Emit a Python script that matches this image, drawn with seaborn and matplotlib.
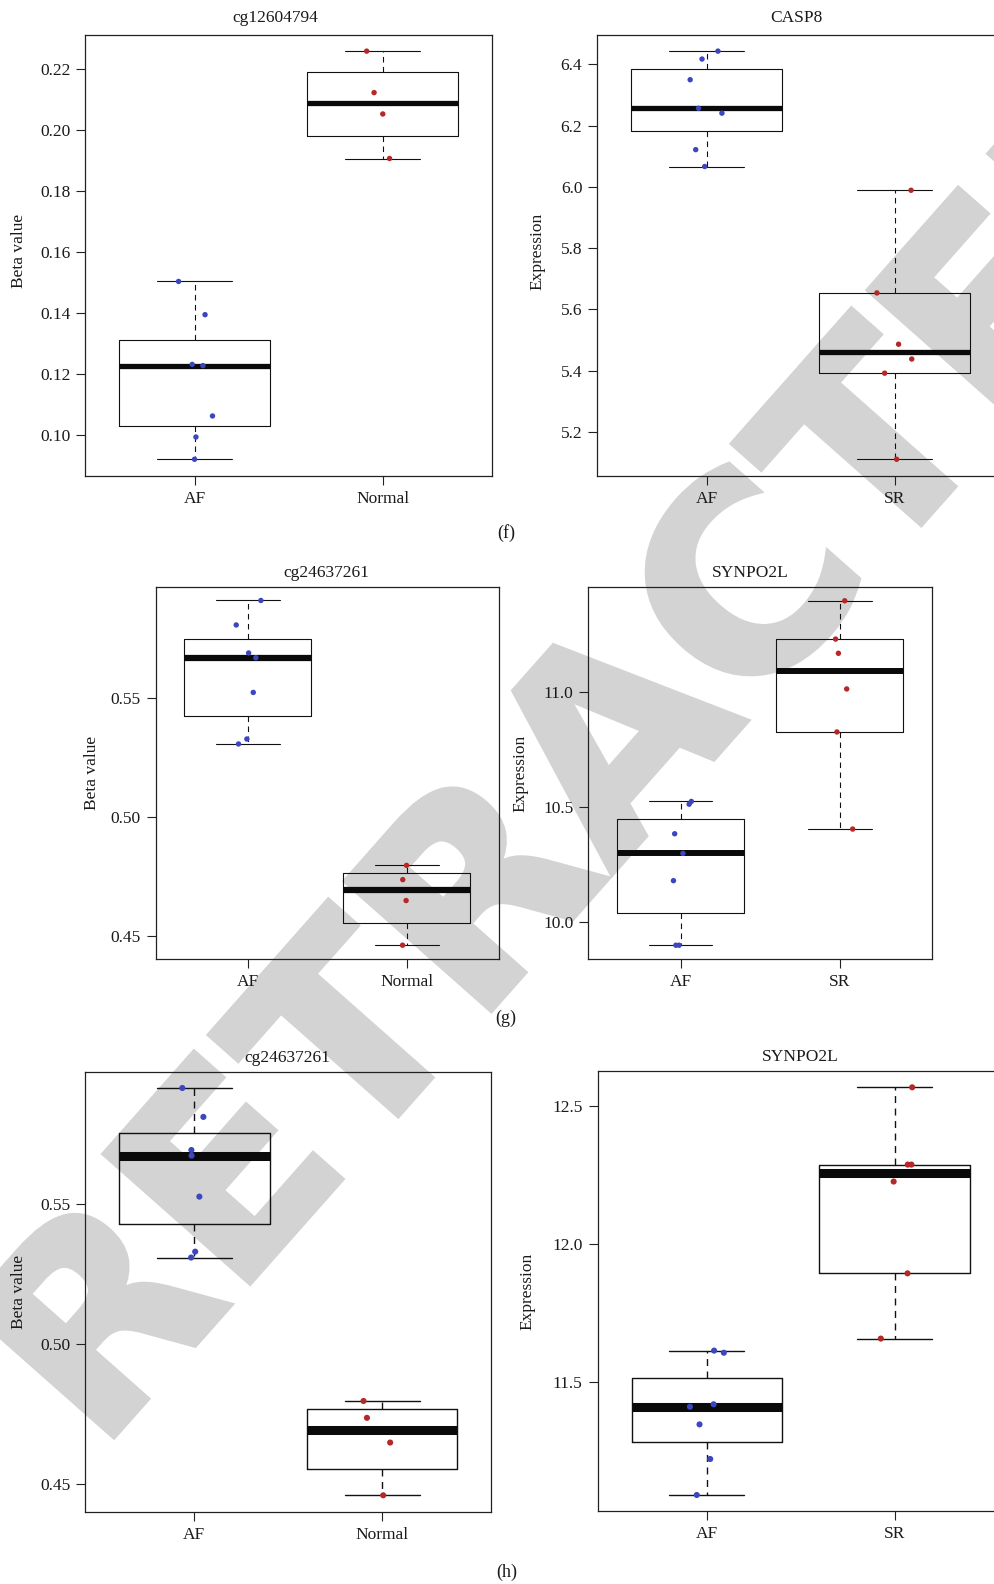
import numpy as np
import pandas as pd
import matplotlib
matplotlib.use("Agg")
import matplotlib.pyplot as plt
import matplotlib.patheffects as pe
import seaborn as sns

# --------------------------------------------------
# Data
# --------------------------------------------------
cats_normal = ["AF", "Normal"]
cats_sr = ["AF", "SR"]

cg126_af = [0.1503, 0.1394, 0.1231, 0.1227, 0.1062, 0.0993, 0.0920]
cg126_normal = [0.2258, 0.2122, 0.2052, 0.1906]

casp8_af = [6.4427, 6.4169, 6.3494, 6.2562, 6.2404, 6.1213, 6.0663]
casp8_sr = [5.9888, 5.6539, 5.4865, 5.4382, 5.3921, 5.1112]

cg246_af = [0.5912, 0.5809, 0.5691, 0.5671, 0.5525, 0.5329, 0.5308]
cg246_normal = [0.4797, 0.4737, 0.4649, 0.4461]

synpo_g_af = [10.524, 10.512, 10.383, 10.2975, 10.1785, 9.897, 9.897]
synpo_g_sr = [11.399, 11.232, 11.170, 11.0145, 10.827, 10.4035]

synpo_h_af = [11.6151, 11.6074, 11.4207, 11.4118, 11.3478, 11.2225, 11.092]
synpo_h_sr = [12.569, 12.289, 12.289, 12.2276, 11.895, 11.6586]

ticks_cg126 = [0.10, 0.12, 0.14, 0.16, 0.18, 0.20, 0.22]
ticks_casp8 = [5.2, 5.4, 5.6, 5.8, 6.0, 6.2, 6.4]
ticks_cg246 = [0.45, 0.50, 0.55]
ticks_synpo_g = [10.0, 10.5, 11.0]
ticks_synpo_h = [11.5, 12.0, 12.5]

BLUE = "#3c46be"
RED = "#b42828"
W, H = 994, 1584

sns.set_theme(style="ticks")
plt.rcParams["font.family"] = ["Liberation Serif", "DejaVu Serif"]
plt.rcParams["font.size"] = 12.5

np.random.seed(7)


def fivenum(v):
    # Tukey hinges, as R's boxplot does
    x = np.sort(np.asarray(v, float))
    n = len(x)
    n4 = np.floor((n + 3) / 2) / 2
    d = np.array([1, n4, (n + 1) / 2, n + 1 - n4, n]) - 1
    return 0.5 * (x[np.floor(d).astype(int)] + x[np.ceil(d).astype(int)])


def px_rect(left, right, top, bottom):
    return [left / W, 1 - bottom / H, (right - left) / W, (bottom - top) / H]


fig = plt.figure(figsize=(W / 100, H / 100), dpi=100)
fig.patch.set_facecolor("white")

# watermark behind the panels
fig.text(626 / W, 1 - 746 / H, "RETRACTED", rotation=48.5, fontsize=192,
         fontweight="bold", family="DejaVu Sans", color="#d3d3d3",
         ha="center", va="center", zorder=-1,
         path_effects=[pe.withStroke(linewidth=4, foreground="#d3d3d3",
                                     joinstyle="miter")])


def draw_panel(rect, cats, vals_a, vals_b, ticks, fmt, title, title_xy,
               ylabel, ylabel_xy, med_lw=3.8, lw=0.8, pt_size=3.9):
    ax = fig.add_axes(rect)
    ax.set_facecolor("none")
    df = pd.DataFrame({
        "group": [cats[0]] * len(vals_a) + [cats[1]] * len(vals_b),
        "value": list(vals_a) + list(vals_b),
    })
    sns.stripplot(data=df, x="group", y="value", hue="group", order=cats,
                  palette={cats[0]: BLUE, cats[1]: RED}, jitter=0.1,
                  size=pt_size, linewidth=0, legend=False, ax=ax, zorder=4)

    stats = []
    for v in (vals_a, vals_b):
        lo, q1, med, q3, hi = fivenum(v)
        stats.append(dict(med=med, q1=q1, q3=q3, whislo=lo, whishi=hi, fliers=[]))
    ax.bxp(stats, positions=[0, 1], widths=0.8, capwidths=0.4,
           showfliers=False, manage_ticks=False,
           boxprops=dict(color="#111111", lw=lw),
           whiskerprops=dict(color="#111111", lw=lw, ls=(0, (5, 4))),
           capprops=dict(color="#111111", lw=lw),
           medianprops=dict(color="#0a0a0a", lw=med_lw, solid_capstyle="butt"))

    allv = np.array(list(vals_a) + list(vals_b))
    rng = allv.max() - allv.min()
    ax.set_ylim(allv.min() - 0.04 * rng, allv.max() + 0.04 * rng)
    ax.set_xlim(-0.58, 1.58)
    ax.set_xticks([0, 1])
    ax.set_xticklabels(cats)
    ax.set_yticks(ticks)
    ax.set_yticklabels([fmt.format(t) for t in ticks])
    ax.set_xlabel("")
    ax.set_ylabel("")
    ax.tick_params(direction="out", length=6.8, width=0.8, color="#222222",
                   labelsize=12.5, pad=4, labelcolor="#1a1a1a")
    for s in ax.spines.values():
        s.set_visible(True)
        s.set_color("#222222")
        s.set_linewidth(0.9)

    fig.text(title_xy[0] / W, 1 - title_xy[1] / H, title, ha="center",
             va="baseline", fontsize=12.5, color="#1a1a1a")
    fig.text(ylabel_xy[0] / W, 1 - ylabel_xy[1] / H, ylabel, ha="center",
             va="center", rotation=90, fontsize=12.5, color="#1a1a1a")
    return ax


# (f)
draw_panel(px_rect(85.3, 492, 34.8, 475.6), cats_normal, cg126_af, cg126_normal,
           ticks_cg126, "{:.2f}", "cg12604794", (275.7, 22.4),
           "Beta value", (19, 251.4))
draw_panel(px_rect(597.3, 1004, 34.8, 475.6), cats_sr, casp8_af, casp8_sr,
           ticks_casp8, "{:.1f}", "CASP8", (796, 22.4),
           "Expression", (537.5, 251.7))

# (g)
draw_panel(px_rect(155.7, 499, 586.7, 959), cats_normal, cg246_af, cg246_normal,
           ticks_cg246, "{:.2f}", "cg24637261", (326.7, 576.7),
           "Beta value", (91.7, 773), med_lw=4.5)
draw_panel(px_rect(588.3, 932, 587, 959), cats_sr, synpo_g_af, synpo_g_sr,
           ticks_synpo_g, "{:.1f}", "SYNPO2L", (750, 577.3),
           "Expression", (520.8, 773), med_lw=4.3)

# (h)
draw_panel(px_rect(85.3, 491.3, 1071.7, 1511.6), cats_normal, cg246_af, cg246_normal,
           ticks_cg246, "{:.2f}", "cg24637261", (287.3, 1061.8),
           "Beta value", (19, 1291.5), med_lw=6.5, lw=1.0, pt_size=4.4)
draw_panel(px_rect(597.7, 1003.7, 1071, 1511.3), cats_sr, synpo_h_af, synpo_h_sr,
           ticks_synpo_h, "{:.1f}", "SYNPO2L", (800, 1061.3),
           "Expression", (527.5, 1291.1), med_lw=6.5, lw=1.0, pt_size=4.4)

for lab, (x, y) in zip(["(f)", "(g)", "(h)"], [(506, 533), (506, 1018), (507, 1572)]):
    fig.text(x / W, 1 - y / H, lab, ha="center", va="center", fontsize=13,
             color="#1a1a1a")

fig.savefig("out.png", dpi=100, facecolor="white")
print("[OK] saved out.png")
